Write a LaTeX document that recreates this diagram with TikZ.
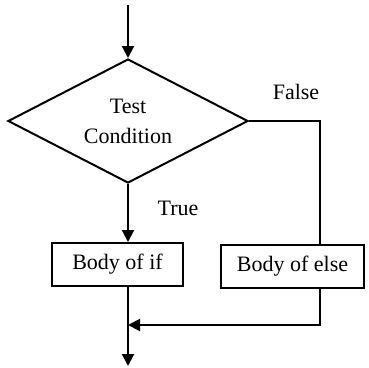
\documentclass[tikz,border=0pt]{standalone}
\usepackage{fontspec}
\setmainfont{Liberation Serif}
\usetikzlibrary{shapes.geometric,arrows.meta}

\begin{document}
\begin{tikzpicture}[x=1pt,y=-1pt]
		\newcommand{\linew}{2pt} % width of all the lines
		\newcommand{\midx}{128} % x of the main flow line
		\newcommand{\elseoff}{27.5pt} % offset of the else line from the box centre
		
		% set the styles of the blocks and the arrows
		\tikzset{
			decision/.style={
				diamond,
				draw,
				line width=\linew,
				aspect=1.935,
				minimum width=240pt,
				minimum height=124pt,
				inner sep=0pt,
				align=center
				},
			block/.style={
				rectangle,
				draw,
				line width=\linew,
				inner sep=0pt
				},
			flow/.style={
				line width=\linew,
				-{Triangle[width=12pt,length=12pt]}
				},
			lbl/.style={inner sep=0pt}
		}
		\fontsize{22}{30}\selectfont
		
		% frame
		\useasboundingbox (0,0) rectangle (369,367);
		
		% blocks
		\node[decision] (cond) at (\midx,121) {Test\\Condition};
		\node[block, minimum width=131pt, minimum height=43pt] (ifbody) at (117.5,264.5) {Body of if};
		\node[block, minimum width=143pt, minimum height=43pt] (elsebody) at (292.5,266) {Body of else};
		
		% labels
		\node[lbl] (false) at (296,92) {False};
		\node[lbl] (true) at (178,208) {True};
		
		% free ends
		\coordinate (in) at (\midx,5);
		\coordinate (join) at (\midx,325);
		\coordinate (out) at (\midx,366);
		
		% arrows
		\draw[flow] (in) -- (cond.north);
		\draw[flow] (cond.south) -- (cond.south |- ifbody.north);
		\draw[line width=\linew] (cond.east) -| ([xshift=\elseoff]elsebody.north);
		\draw[flow] ([xshift=\elseoff]elsebody.south) |- (join);
		\draw[flow] (cond.south |- ifbody.south) -- (out);

\end{tikzpicture}
\end{document}
